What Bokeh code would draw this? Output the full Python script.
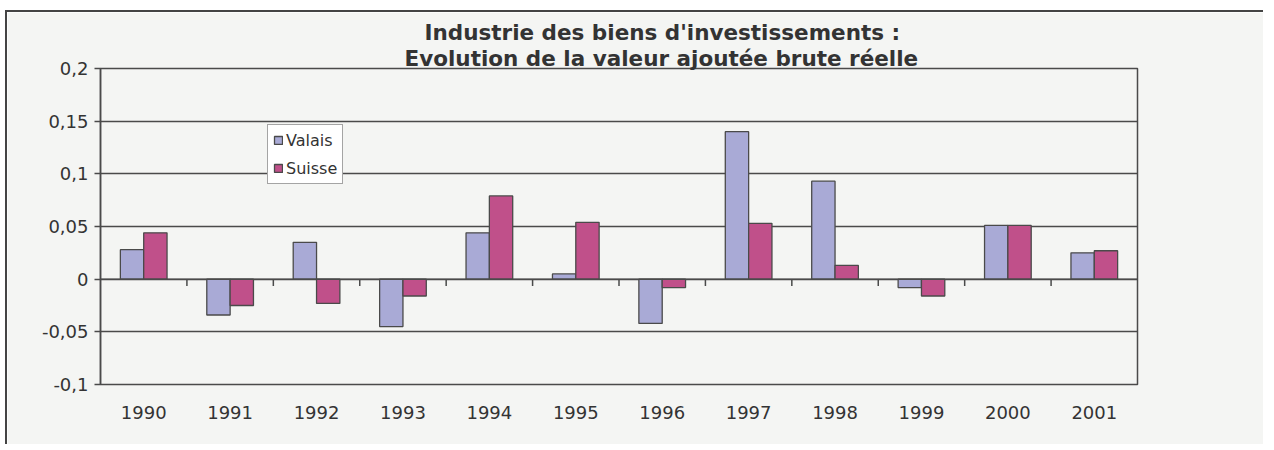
from bokeh.plotting import figure
from bokeh.models import Range1d, FixedTicker, Span, Title, Legend, LegendItem, ColumnDataSource
from bokeh.embed import file_html
from bokeh.resources import INLINE

years = ["1990", "1991", "1992", "1993", "1994", "1995", "1996", "1997", "1998", "1999", "2000", "2001"]
valais = [0.028, -0.034, 0.035, -0.045, 0.044, 0.005, -0.042, 0.140, 0.093, -0.008, 0.051, 0.025]
suisse = [0.044, -0.025, -0.023, -0.016, 0.079, 0.054, -0.008, 0.053, 0.013, -0.016, 0.051, 0.027]
y_ticks = [-0.1, -0.05, 0, 0.05, 0.1, 0.15, 0.2]
y_labels = ["-0,1", "-0,05", "0", "0,05", "0,1", "0,15", "0,2"]
title_lines = ["Industrie des biens d'investissements :", "Evolution de la valeur ajoutée brute réelle"]

BG = "#f4f5f3"
LINE = "#4a4a4a"
TXT = "#333333"
FONT = "DejaVu Sans"

n = len(years)
centers = [i + 0.5 for i in range(n)]
bw = 0.27

p = figure(width=1258, height=434, output_backend="svg", toolbar_location=None,
           x_range=Range1d(0, n), y_range=Range1d(-0.1, 0.2),
           min_border_left=93, min_border_right=128, min_border_top=56, min_border_bottom=62)
p.background_fill_color = BG
p.border_fill_color = BG
p.outline_line_color = LINE
p.outline_line_width = 1.5
p.styles = {"border-top": "2px solid #444", "border-left": "2px solid #444",
            "margin-top": "10px", "margin-left": "5px"}

src = ColumnDataSource(dict(xv=[c - bw / 2 for c in centers], xs=[c + bw / 2 for c in centers],
                            valais=valais, suisse=suisse))
rv = p.vbar(x="xv", top="valais", bottom=0, width=bw, source=src,
            fill_color="#a9aad6", line_color=LINE, line_width=1.3)
rs = p.vbar(x="xs", top="suisse", bottom=0, width=bw, source=src,
            fill_color="#c0508a", line_color=LINE, line_width=1.3)

# zero line and category separator ticks
p.add_layout(Span(location=0, dimension="width", line_color=LINE, line_width=1.5))
bounds = list(range(1, n))
p.segment(x0=bounds, x1=bounds, y0=[0] * len(bounds), y1=[-0.0065] * len(bounds),
          line_color=LINE, line_width=1.5)

# axes
p.xaxis.ticker = FixedTicker(ticks=centers)
p.xaxis.major_label_overrides = {c: y for c, y in zip(centers, years)}
p.xaxis.axis_line_color = None
p.xaxis.major_tick_line_color = None
p.xaxis.minor_tick_line_color = None
p.xaxis.major_label_text_font = FONT
p.xaxis.major_label_text_font_size = "18px"
p.xaxis.major_label_text_color = TXT
p.xaxis.major_label_standoff = 15

p.yaxis.ticker = FixedTicker(ticks=y_ticks)
p.yaxis.major_label_overrides = {t: l for t, l in zip(y_ticks, y_labels)}
p.yaxis.axis_line_color = LINE
p.yaxis.axis_line_width = 1.5
p.yaxis.major_tick_line_color = LINE
p.yaxis.major_tick_line_width = 1.5
p.yaxis.major_tick_in = 0
p.yaxis.major_tick_out = 6
p.yaxis.minor_tick_line_color = None
p.yaxis.major_label_text_font = FONT
p.yaxis.major_label_text_font_size = "18px"
p.yaxis.major_label_text_color = TXT
p.yaxis.major_label_standoff = 6

p.xgrid.grid_line_color = None
p.ygrid.ticker = FixedTicker(ticks=y_ticks)
p.ygrid.grid_line_color = LINE
p.ygrid.grid_line_width = 1.5

# two-line title above the frame (added innermost first)
title_offsets = [304, 324]
for i, line in enumerate(reversed(title_lines)):
    t = Title(text=line, align="left", offset=title_offsets[i], text_font=FONT,
              text_font_size="21.5px", text_font_style="bold", text_color=TXT,
              standoff=-5 if i == 0 else 3)
    p.add_layout(t, "above")

legend = Legend(items=[LegendItem(label="Valais", renderers=[rv]),
                       LegendItem(label="Suisse", renderers=[rs])],
                location=(167, 200))
legend.background_fill_color = "white"
legend.background_fill_alpha = 1
legend.border_line_color = LINE
legend.border_line_width = 1.5
legend.label_text_font = FONT
legend.label_text_font_size = "16px"
legend.label_text_color = TXT
legend.glyph_width = 10
legend.glyph_height = 10
legend.label_standoff = 3
legend.padding = 5
legend.spacing = 8
legend.margin = 0
legend.label_height = 20
p.add_layout(legend)

open("out.html", "w").write(file_html(p, INLINE))
